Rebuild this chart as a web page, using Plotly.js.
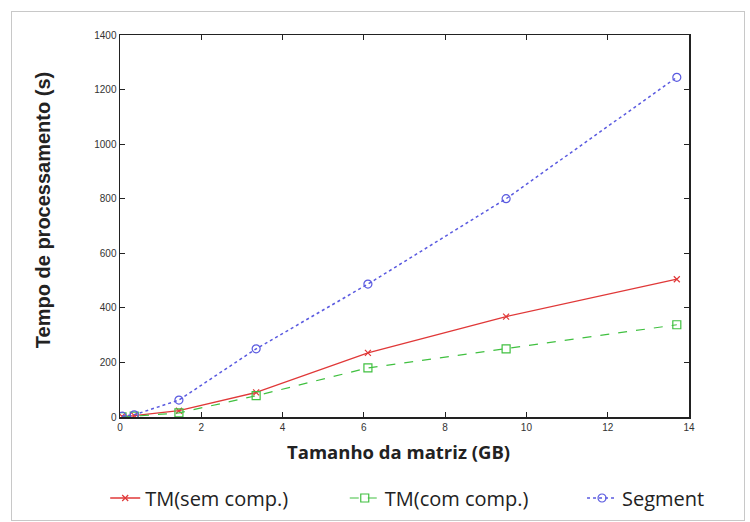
<!DOCTYPE html>
<html><head><meta charset="utf-8">
<script src="https://cdn.plot.ly/plotly-3.0.1.min.js"></script>
<style>
html,body{margin:0;padding:0;background:#fff;}
#frame{position:absolute;left:11px;top:11px;width:734px;height:510px;border:1px solid #c8c8c8;box-sizing:border-box;}
#chart{position:absolute;left:0;top:0;width:750px;height:522px;}
</style></head>
<body>
<div id="frame"></div>
<div id="chart"></div>
<script>
const xSize = [0.05, 0.35, 1.45, 3.35, 6.1, 9.5, 13.7];
const tmSem = [2, 5, 23, 90, 235, 368, 505];
const tmCom = [1, 3, 15, 78, 180, 250, 338];
const segment = [3, 8, 62, 250, 487, 800, 1245];
const seriesNames = ['TM(sem comp.)', 'TM(com comp.)', 'Segment'];
const xTitle = 'Tamanho da matriz (GB)';
const yTitle = 'Tempo de processamento (s)';

const traces = [
  {x: xSize, y: tmSem, name: seriesNames[0], mode: 'lines+markers', legend: 'legend',
   line: {color: '#e03838', width: 1.3, dash: 'solid'},
   marker: {symbol: 'x-thin-open', size: 6, color: '#e03838', line: {color: '#e03838', width: 1.2}}},
  {x: xSize, y: tmCom, name: seriesNames[1], mode: 'lines+markers', legend: 'legend2',
   line: {color: '#40c040', width: 1.2, dash: 'dash'},
   marker: {symbol: 'square-open', size: 8, color: '#40c040', line: {width: 1.2}}},
  {x: xSize, y: segment, name: seriesNames[2], mode: 'lines+markers', legend: 'legend3',
   line: {color: '#5a5ae0', width: 1.5, dash: 'dot'},
   marker: {symbol: 'circle-open', size: 8, color: '#5a5ae0', line: {width: 1.2}}}
];

const legFont = {family: 'Open Sans, sans-serif', size: 20, color: '#222'};
const legBase = {orientation: 'h', xanchor: 'left', y: -0.212, yanchor: 'middle', font: legFont, bgcolor: 'rgba(0,0,0,0)'};

const layout = {
  width: 750, height: 522,
  margin: {l: 120, r: 61, t: 35, b: 105, autoexpand: false},
  paper_bgcolor: 'rgba(0,0,0,0)', plot_bgcolor: '#fff',
  showlegend: true,
  font: {family: 'Liberation Sans, Arial, sans-serif', color: '#333'},
  xaxis: {
    range: [0, 14], dtick: 2, tick0: 0,
    showgrid: false, zeroline: false,
    showline: true, linecolor: '#222', linewidth: 1.5, mirror: 'allticks',
    ticks: 'inside', ticklen: 5, tickcolor: '#222',
    tickfont: {size: 10, color: '#333'}
  },
  yaxis: {
    range: [0, 1400], dtick: 200, tick0: 0,
    showgrid: false, zeroline: false,
    showline: true, linecolor: '#222', linewidth: 1.5, mirror: 'allticks',
    ticks: 'inside', ticklen: 5, tickcolor: '#222',
    tickfont: {size: 10, color: '#333'}
  },
  legend: Object.assign({}, legBase, {x: -0.026}),
  legend2: Object.assign({}, legBase, {x: 0.395}),
  legend3: Object.assign({}, legBase, {x: 0.812}),
  annotations: [
    {text: '<b>' + xTitle + '</b>', xref: 'paper', yref: 'paper', x: 0.489, y: -0.0916,
     xanchor: 'center', yanchor: 'middle', showarrow: false,
     font: {family: 'Open Sans, sans-serif', size: 18.5, color: '#222'}},
    {text: '<b>' + yTitle + '</b>', xref: 'paper', yref: 'paper', x: -0.135, y: 0.542,
     xanchor: 'center', yanchor: 'middle', showarrow: false, textangle: -90,
     font: {family: 'Liberation Sans, Arial, sans-serif', size: 20, color: '#222'}}
  ]
};

Plotly.newPlot('chart', traces, layout, {displayModeBar: false, staticPlot: true});
</script>
</body></html>
